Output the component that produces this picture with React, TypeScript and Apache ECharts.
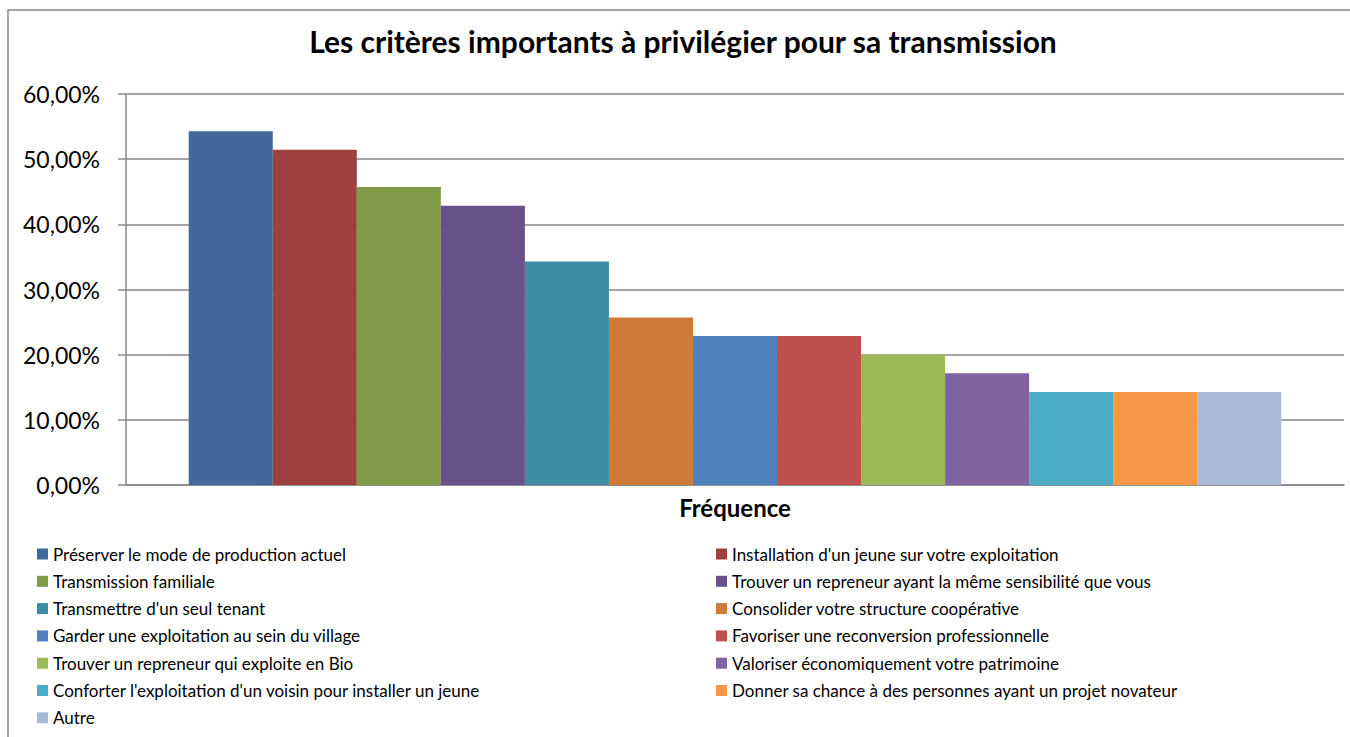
import React, { useEffect, useRef } from "react";
import * as echarts from "echarts";

const categories = ["Fréquence"];
const seriesNames = [
  "Préserver le mode de production actuel",
  "Installation d'un jeune sur votre exploitation",
  "Transmission familiale",
  "Trouver un repreneur ayant la même sensibilité que vous",
  "Transmettre d'un seul tenant",
  "Consolider votre structure coopérative",
  "Garder une exploitation au sein du village",
  "Favoriser une reconversion professionnelle",
  "Trouver un repreneur qui exploite en Bio",
  "Valoriser économiquement votre patrimoine",
  "Conforter l'exploitation d'un voisin pour installer un jeune",
  "Donner sa chance à des personnes ayant un projet novateur",
  "Autre",
];
const seriesValues = [54.29, 51.43, 45.71, 42.86, 34.29, 25.71, 22.86, 22.86, 20.0, 17.14, 14.29, 14.29, 14.29];
const seriesColors = [
  "#41699B", "#9E403E", "#7F9A48", "#69518A", "#3C8DA3", "#CC7B38",
  "#4F81BD", "#C0504D", "#9BBB59", "#8064A2", "#4BACC6", "#F79646", "#AAB9D7",
];
const yTicks = { min: 0, max: 60, interval: 10 };
const title = "Les critères importants à privilégier pour sa transmission";

const FONT = "Lato";

export default function App() {
  const ref = useRef<HTMLDivElement>(null);
  useEffect(() => {
    document.body.style.margin = "0";
    const chart = echarts.init(ref.current!, null, { renderer: "svg" });
    const legendText = { fontFamily: FONT, fontSize: 17, color: "#000", lineHeight: 20 };
    const legendBase = {
      orient: "vertical",
      top: 544,
      height: 190,
      padding: 0,
      itemWidth: 11,
      itemHeight: 11,
      itemGap: 7.3,
      icon: "rect",
      textStyle: legendText,
    };
    chart.setOption({
      animation: false,
      backgroundColor: "#fff",
      title: {
        text: title,
        left: 683,
        textAlign: "center",
        top: 26,
        padding: 0,
        textStyle: { fontFamily: FONT, fontSize: 30, fontWeight: "bold", color: "#000" },
      },
      graphic: [
        {
          type: "rect",
          shape: { x: 8, y: 10, width: 1400, height: 800 },
          style: { fill: "none", stroke: "#888", lineWidth: 1.5 },
          silent: true,
        },
      ],
      grid: { left: 126, right: 6, top: 94, bottom: 252, containLabel: false },
      xAxis: {
        type: "category",
        data: categories,
        axisLine: { show: true, lineStyle: { color: "#888", width: 1.5 } },
        axisTick: { show: false },
        axisLabel: { fontFamily: FONT, fontSize: 24, fontWeight: "bold", color: "#000", margin: 10 },
      },
      yAxis: {
        type: "value",
        min: yTicks.min,
        max: yTicks.max,
        interval: yTicks.interval,
        axisLine: { show: true, lineStyle: { color: "#888", width: 1.5 } },
        axisTick: { show: true, length: 8, lineStyle: { color: "#888", width: 1.5 } },
        splitLine: { show: true, lineStyle: { color: "#888", width: 1.5 } },
        axisLabel: {
          fontFamily: FONT,
          fontSize: 23,
          color: "#000",
          margin: 26,
          formatter: (v: number) => v.toFixed(2).replace(".", ",") + "%",
        },
      },
      legend: [
        { ...legendBase, left: 37, data: seriesNames.filter((_, i) => i % 2 === 0) },
        { ...legendBase, left: 716, data: seriesNames.filter((_, i) => i % 2 === 1) },
      ],
      series: seriesNames.map((name, i) => ({
        name,
        type: "bar",
        data: [seriesValues[i]],
        itemStyle: { color: seriesColors[i] },
        barGap: "0%",
        barCategoryGap: "10.3%",
      })),
    });
    return () => chart.dispose();
  }, []);
  return <div ref={ref} style={{ width: 1350, height: 737 }} />;
}
